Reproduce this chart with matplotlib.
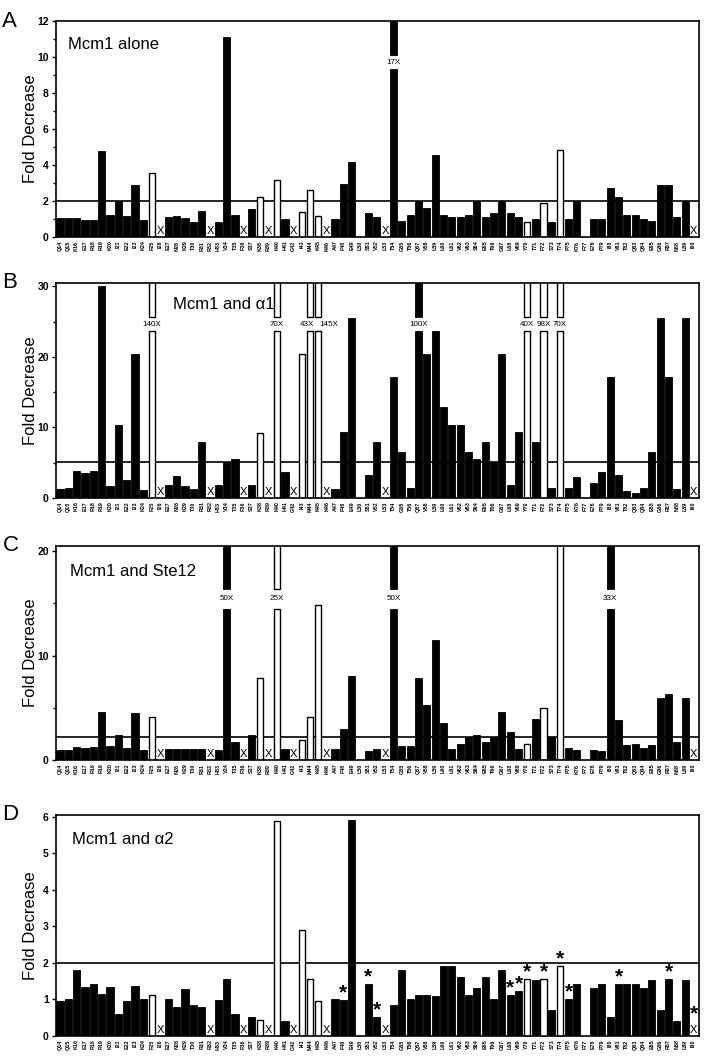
import numpy as np
import matplotlib
matplotlib.use("Agg")
import matplotlib.pyplot as plt
import matplotlib.transforms as transforms

plt.rcParams['font.family'] = ['Liberation Sans', 'DejaVu Sans']

nan = np.nan

residues = ["Q14", "Q15", "K16", "E17", "R18", "R19", "K20", "I21", "E22", "I23",
            "K24", "F25", "I26", "E27", "N28", "K29", "T30", "R31", "R32", "H33",
            "V34", "T35", "F36", "S37", "K38", "R39", "K40", "H41", "G42", "I43",
            "M44", "K45", "K46", "A47", "F48", "E49", "L50", "S51", "V52", "L53",
            "T54", "G55", "T56", "Q57", "V58", "L59", "L60", "L61", "V62", "V63",
            "S64", "E65", "T66", "G67", "L68", "V69", "Y70", "T71", "F72", "S73",
            "T74", "P75", "K76", "F77", "E78", "P79", "I80", "V81", "T82", "Q83",
            "Q84", "E85", "G86", "R87", "N88", "L89", "I90"]

# mutants drawn as open bars, and mutants not tested (marked X)
open_bars = ["F25", "K38", "K40", "I43", "M44", "K45", "Y70", "F72", "T74"]
not_tested = ["I26", "R32", "F36", "R39", "G42", "K46", "L53", "I90"]

# A: Mcm1 alone
vals_a = [1.05, 1.05, 1.05, 0.95, 0.95, 4.8, 1.25, 2.0, 1.15, 2.9,
          0.95, 3.55, nan, 1.1, 1.15, 1.05, 0.85, 1.45, nan, 0.85,
          11.1, 1.22, nan, 1.55, 2.2, nan, 3.15, 1.0, nan, 1.42,
          2.62, 1.18, nan, 1.0, 2.93, 4.17, 0, 1.33, 1.13, nan,
          nan, 0.92, 1.22, 2.03, 1.6, 4.56, 1.22, 1.13, 1.13, 1.22,
          2.03, 1.13, 1.33, 2.03, 1.33, 1.13, 0.81, 1.0, 1.9, 0.81,
          4.83, 1.0, 2.0, 0, 1.0, 1.0, 2.7, 2.2, 1.22, 1.22,
          1.0, 0.92, 2.9, 2.9, 1.13, 2.0, nan]
breaks_a = {"T54": "17X"}

# B: Mcm1 and alpha1
vals_b = [1.22, 1.46, 3.76, 3.48, 3.86, 30.0, 1.65, 10.3, 2.54, 20.45,
          1.13, nan, nan, 1.88, 3.1, 1.65, 1.27, 8.0, nan, 1.79,
          5.12, 5.55, nan, 1.79, 9.2, nan, nan, 3.67, nan, 20.36,
          nan, nan, nan, 1.27, 9.4, 25.5, 0, 3.2, 8.0, nan,
          17.1, 6.5, 1.41, nan, 20.45, 23.7, 12.93, 10.34, 10.34, 6.5,
          5.55, 8.0, 5.12, 20.45, 1.88, 9.36, nan, 8.0, nan, 1.36,
          nan, 1.36, 2.96, 0, 2.16, 3.62, 17.1, 3.2, 0.94, 0.66,
          1.36, 6.5, 25.5, 17.1, 1.22, 25.5, nan]
breaks_b = {"F25": "140X", "K40": "70X", "M44": "43X", "K45": "145X",
            "Q57": "100X", "Y70": "40X", "F72": "98X", "T74": "70X"}

# C: Mcm1 and Ste12
vals_c = [1.0, 1.0, 1.27, 1.17, 1.24, 4.6, 1.33, 2.44, 1.2, 4.54,
          1.0, 4.13, nan, 1.1, 1.1, 1.05, 1.05, 1.08, nan, 0.95,
          nan, 1.71, nan, 2.38, 7.9, nan, nan, 1.1, nan, 1.9,
          4.1, 14.86, nan, 1.1, 3.0, 8.0, 0, 0.9, 1.08, nan,
          nan, 1.3, 1.37, 7.9, 5.3, 11.5, 3.5, 1.1, 1.5, 2.2,
          2.44, 1.71, 2.2, 4.57, 2.73, 1.08, 1.55, 3.97, 4.98, 2.2,
          21.0, 1.2, 1.0, 0, 0.95, 0.86, nan, 3.87, 1.46, 1.5,
          1.17, 1.43, 5.9, 6.29, 1.68, 5.9, nan]
breaks_c = {"V34": "50X", "K40": "25X", "T54": "50X", "I80": "33X"}

# D: Mcm1 and alpha2
vals_d = [0.97, 1.0, 1.81, 1.34, 1.43, 1.14, 1.34, 0.59, 0.95, 1.36,
          1.01, 1.11, nan, 1.01, 0.79, 1.29, 0.85, 0.79, nan, 0.98,
          1.56, 0.61, nan, 0.53, 0.43, nan, 5.87, 0.42, nan, 2.9,
          1.57, 0.96, nan, 1.01, 0.98, 5.9, 0, 1.42, 0.51, nan,
          0.86, 1.81, 1.01, 1.11, 1.11, 1.1, 1.91, 1.91, 1.62, 1.11,
          1.32, 1.62, 1.01, 1.81, 1.11, 1.22, 1.55, 1.52, 1.55, 0.72,
          1.91, 1.01, 1.42, 0, 1.32, 1.42, 0.53, 1.42, 1.42, 1.42,
          1.32, 1.52, 0.72, 1.55, 0.41, 1.52, nan]
starred_d = ["F48", "S51", "V52", "L68", "V69", "Y70", "F72", "T74", "P75",
             "V81", "R87", "I90"]

assert len(residues) == 77
for v in (vals_a, vals_b, vals_c, vals_d):
    assert len(v) == 77

x = np.arange(len(residues))


def draw_panel(ax, letter, title, title_xy, vals, breaks, ymax, major, minor,
               threshold, gap=None, label_shift=None, stars=None):
    label_shift = label_shift or {}
    is_open = np.array([r in open_bars for r in residues])
    vals = np.array(vals, dtype=float)
    plain = ~np.isnan(vals)
    for r in breaks:
        plain[residues.index(r)] = False

    ax.axhline(threshold, color='black', lw=1.2, zorder=1)

    m = plain & ~is_open
    ax.bar(x[m], vals[m], width=0.86, color='black', edgecolor='black',
           linewidth=0.6, zorder=2)
    m = plain & is_open
    ax.bar(x[m], vals[m], width=0.74, color='white', edgecolor='black',
           linewidth=1.0, zorder=2)

    # bars running off the scale, cut with the fold value written in the gap
    for r, txt in breaks.items():
        i = residues.index(r)
        op = r in open_bars
        kw = dict(width=0.74 if op else 0.86, color='white' if op else 'black',
                  edgecolor='black', linewidth=1.0 if op else 0.6, zorder=2)
        ax.bar(x[i], gap[0], **kw)
        ax.bar(x[i], ymax * 1.2 - gap[1], bottom=gap[1], **kw)
        ax.text(x[i] + label_shift.get(r, 0), (gap[0] + gap[1]) / 2, txt,
                ha='center', va='center', fontsize=5.8, zorder=3)

    trans = transforms.blended_transform_factory(ax.transData, ax.transAxes)
    for r in not_tested:
        ax.text(x[residues.index(r)], 0.004, 'X', transform=trans, ha='center',
                va='bottom', fontsize=8, zorder=3)

    if stars:
        for r in stars:
            i = residues.index(r)
            v = vals[i] if not np.isnan(vals[i]) else 0.4
            ax.text(x[i], v + 0.2, '*', ha='center', va='center',
                    fontsize=15, fontweight='bold', zorder=3)

    ax.set_xlim(-0.5, 76.6)
    ax.set_ylim(0, ymax)
    ax.set_yticks(major)
    ax.set_yticks(minor, minor=True)
    ax.set_xticks(x)
    ax.set_xticklabels(residues, rotation=90, fontsize=3.9, fontweight='bold')
    ax.tick_params(axis='x', length=0, pad=2.5)
    ax.tick_params(axis='y', which='major', length=3, width=1, pad=2,
                   labelsize=7.5)
    ax.tick_params(axis='y', which='minor', length=2, width=1)
    for t in ax.get_yticklabels():
        t.set_fontweight('bold')
    for s in ax.spines.values():
        s.set_linewidth(1.2)
    ax.set_ylabel('Fold Decrease', fontsize=12)
    ax.yaxis.set_label_coords(-0.027, 0.5)
    ax.text(title_xy[0], title_xy[1], title, transform=ax.transAxes,
            ha='left', va='center', fontsize=12)
    ax.text(-0.083, 1.0, letter, transform=ax.transAxes, ha='left',
            va='center', fontsize=16)


fig = plt.figure(figsize=(7.15, 10.63), dpi=100)
ax_a = fig.add_axes([0.078, 0.777, 0.899, 0.203])
ax_b = fig.add_axes([0.078, 0.5315, 0.899, 0.2025])
ax_c = fig.add_axes([0.078, 0.285, 0.899, 0.2015])
ax_d = fig.add_axes([0.078, 0.0254, 0.899, 0.208])

draw_panel(ax_a, 'A', 'Mcm1 alone', (0.019, 0.89), vals_a, breaks_a, 12,
           [0, 2, 4, 6, 8, 10, 12], [1, 3, 5, 7, 9, 11], 2.0, gap=(9.35, 10.1))
draw_panel(ax_b, 'B', 'Mcm1 and \u03b11', (0.182, 0.9), vals_b, breaks_b, 30.5,
           [0, 10, 20, 30], [5, 15, 25], 5.1, gap=(23.6, 25.6),
           label_shift={"M44": -0.4, "K45": 1.3})
draw_panel(ax_c, 'C', 'Mcm1 and Ste12', (0.022, 0.88), vals_c, breaks_c, 20.5,
           [0, 10, 20], [5, 15], 2.2, gap=(14.5, 16.4))
draw_panel(ax_d, 'D', 'Mcm1 and \u03b12', (0.025, 0.887), vals_d, {}, 6.05,
           [0, 1, 2, 3, 4, 5, 6], [], 2.0, stars=starred_d)

fig.savefig('out.png', dpi=100)
